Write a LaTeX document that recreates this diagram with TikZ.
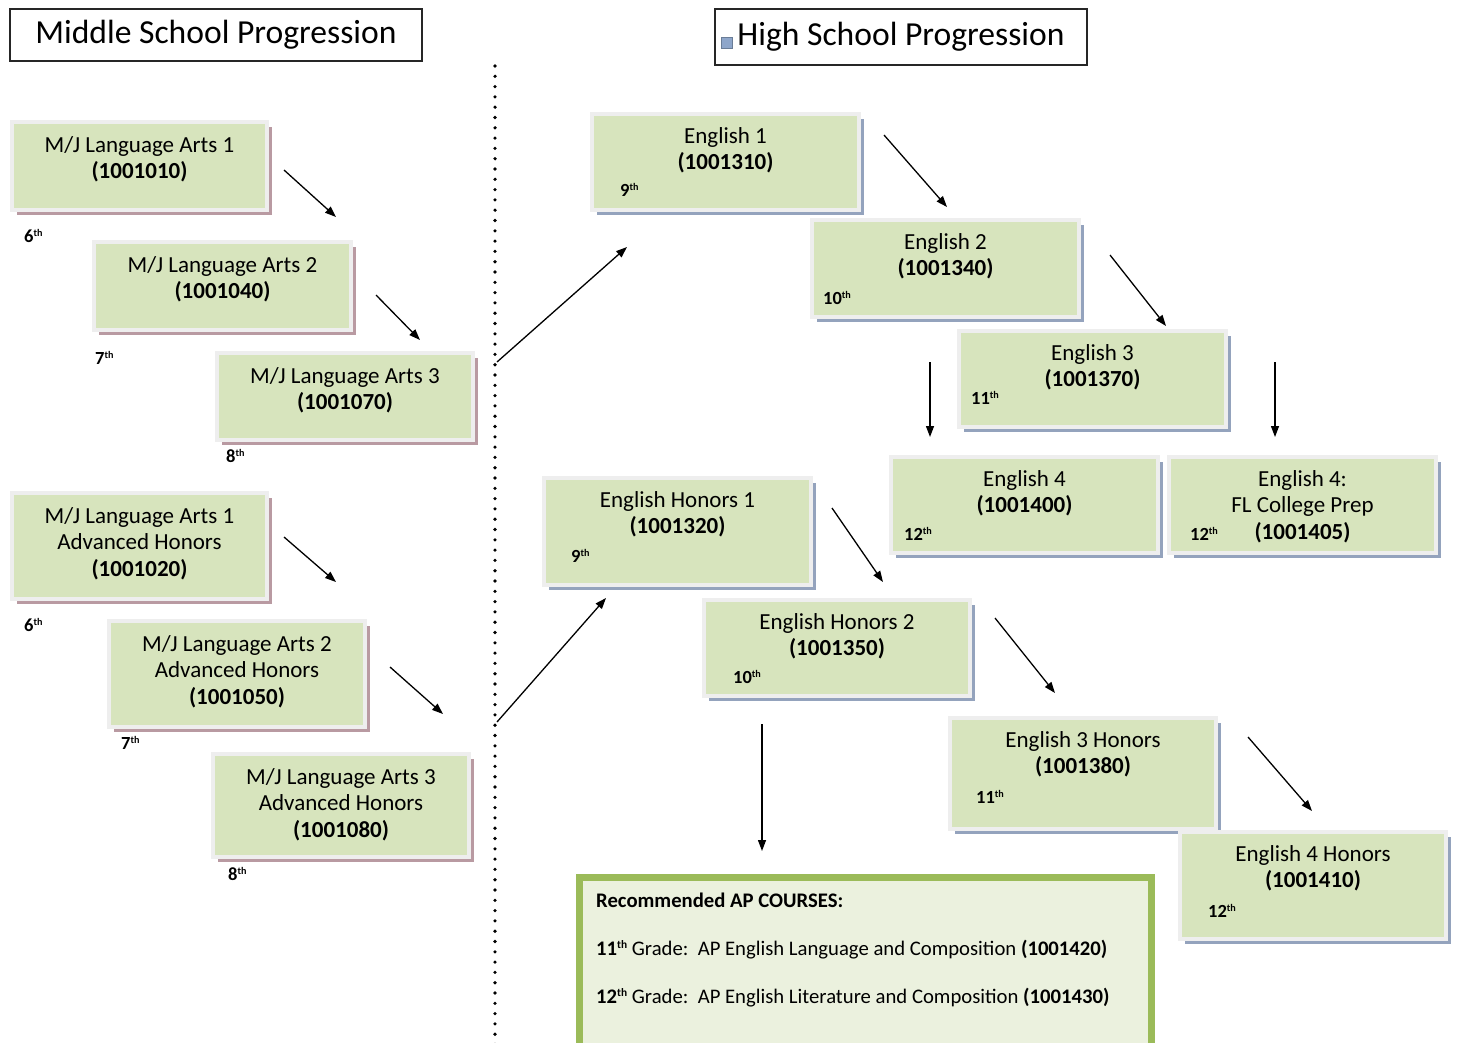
\documentclass[tikz,border=0pt]{standalone}
\usepackage{fontspec}
\setmainfont{Carlito}
\usetikzlibrary{arrows.meta,shadows,calc}
\definecolor{boxgreen}{HTML}{D7E4BD}
\definecolor{framegray}{HTML}{EEEEEE}
\definecolor{shl}{HTML}{B99AA2}
\definecolor{shr}{HTML}{94A3BD}
\definecolor{apgreen}{HTML}{9BBB59}
\definecolor{apfill}{HTML}{EBF1DE}
\definecolor{sqblue}{HTML}{8EA6CA}
\newcommand\gth{\raisebox{0.62ex}{\scalebox{0.55}{th}}}
\tikzset{
  cbox/.style={rectangle, anchor=north west, fill=boxgreen, draw=framegray, line width=4pt, inner sep=0pt},
  lbox/.style={cbox, drop shadow={shadow xshift=5pt, shadow yshift=-5pt, fill=shl, opacity=1}},
  rbox/.style={cbox, drop shadow={shadow xshift=5pt, shadow yshift=-5pt, fill=shr, opacity=1}},
  btext/.style={anchor=north, align=center, inner sep=0pt, font=\fontsize{23}{26.5}\selectfont},
  grade/.style={anchor=base west, inner sep=0pt, font=\fontsize{18.5}{20}\selectfont\bfseries},
  arr/.style={-{Triangle[length=11pt,width=8pt]}, line width=1.3pt},
  titlebox/.style={draw=black!85, line width=1.3pt, inner sep=0pt, font=\fontsize{33.6}{38}\selectfont},
  divider/.style={line width=3.6pt, line cap=round, dash pattern=on 0pt off 10.3pt},
  aptext/.style={anchor=base west, inner sep=0pt, font=\fontsize{20.7}{24}\selectfont},
}
\begin{document}
\begin{tikzpicture}[x=1pt, y=-1pt]
\clip (0,0) rectangle (1457,1042);
\fill[white] (0,0) rectangle (1457,1042);

% titles
\node[titlebox, minimum width=412pt, minimum height=52pt] (ms) at (216,35) {Middle School Progression};
\node[titlebox, minimum width=372pt, minimum height=56pt] (hs) at (901,37) {High School Progression};
\node[fill=sqblue, draw=sqblue!75!black, line width=0.6pt, minimum size=11pt, inner sep=0pt] (sq) at (727,43) {};

% divider
\coordinate (dtop) at (495,66);
\coordinate (dbot) at (495,1046);
\draw[divider] (dtop) -- (dbot);

% middle school boxes
\node[lbox, minimum width=255pt, minimum height=88pt] (mj1) at (10,120) {};
\node[btext] (mj1t) at ($(mj1.north)+(0,16)$) {M/J Language Arts 1\\\textbf{(1001010)}};
\node[lbox, minimum width=257pt, minimum height=88pt] (mj2) at (92,240) {};
\node[btext] (mj2t) at ($(mj2.north)+(0,16)$) {M/J Language Arts 2\\\textbf{(1001040)}};
\node[lbox, minimum width=256pt, minimum height=87pt] (mj3) at (215,351) {};
\node[btext] (mj3t) at ($(mj3.north)+(0,16)$) {M/J Language Arts 3\\\textbf{(1001070)}};
\node[lbox, minimum width=255pt, minimum height=106pt] (mh1) at (10,491) {};
\node[btext] (mh1t) at ($(mh1.north)+(0,16)$) {M/J Language Arts 1\\Advanced Honors\\\textbf{(1001020)}};
\node[lbox, minimum width=256pt, minimum height=106pt] (mh2) at (107,619) {};
\node[btext] (mh2t) at ($(mh2.north)+(0,16)$) {M/J Language Arts 2\\Advanced Honors\\\textbf{(1001050)}};
\node[lbox, minimum width=256pt, minimum height=103pt] (mh3) at (211,752) {};
\node[btext] (mh3t) at ($(mh3.north)+(0,16)$) {M/J Language Arts 3\\Advanced Honors\\\textbf{(1001080)}};

\node[grade] (g6a) at (24,242) {6\gth};
\node[grade] (g7a) at (95,364) {7\gth};
\node[grade] (g8a) at (226,462) {8\gth};
\node[grade] (g6b) at (24,631) {6\gth};
\node[grade] (g7b) at (121,749) {7\gth};
\node[grade] (g8b) at (228,880) {8\gth};

% high school boxes
\node[rbox, minimum width=267pt, minimum height=96pt] (e1) at (590,112) {};
\node[btext] (e1t) at ($(e1.north)+(0,15)$) {English 1\\\textbf{(1001310)}};
\node[rbox, minimum width=267pt, minimum height=97pt] (e2) at (810,218) {};
\node[btext] (e2t) at ($(e2.north)+(0,15)$) {English 2\\\textbf{(1001340)}};
\node[rbox, minimum width=267pt, minimum height=96pt] (e3) at (957,329) {};
\node[btext] (e3t) at ($(e3.north)+(0,15)$) {English 3\\\textbf{(1001370)}};
\node[rbox, minimum width=267pt, minimum height=96pt] (e4) at (889,455) {};
\node[btext] (e4t) at ($(e4.north)+(0,15)$) {English 4\\\textbf{(1001400)}};
\node[rbox, minimum width=267pt, minimum height=96pt] (e4f) at (1167,455) {};
\node[btext] (e4ft) at ($(e4f.north)+(0,15)$) {English 4:\\FL College Prep\\\textbf{(1001405)}};
\node[rbox, minimum width=267pt, minimum height=107pt] (eh1) at (542,476) {};
\node[btext] (eh1t) at ($(eh1.north)+(0,15)$) {English Honors 1\\\textbf{(1001320)}};
\node[rbox, minimum width=266pt, minimum height=96pt] (eh2) at (702,598) {};
\node[btext] (eh2t) at ($(eh2.north)+(0,15)$) {English Honors 2\\\textbf{(1001350)}};
\node[rbox, minimum width=266pt, minimum height=111pt] (eh3) at (948,716) {};
\node[btext] (eh3t) at ($(eh3.north)+(0,15)$) {English 3 Honors\\\textbf{(1001380)}};
\node[rbox, minimum width=266pt, minimum height=107pt] (eh4) at (1178,830) {};
\node[btext] (eh4t) at ($(eh4.north)+(0,15)$) {English 4 Honors\\\textbf{(1001410)}};

\node[grade] (g9a) at (620,196) {9\gth};
\node[grade] (g10a) at (823,304) {10\gth};
\node[grade] (g11a) at (971,404) {11\gth};
\node[grade] (g12a) at (904,540) {12\gth};
\node[grade] (g12b) at (1190,540) {12\gth};
\node[grade] (g9b) at (571,562) {9\gth};
\node[grade] (g10b) at (733,683) {10\gth};
\node[grade] (g11b) at (976,803) {11\gth};
\node[grade] (g12c) at (1208,917) {12\gth};

% AP box
\node[draw=apgreen, line width=6pt, fill=apfill, anchor=north west, inner sep=0pt,
      minimum width=573pt, minimum height=180pt] (ap) at (576,874) {};
\draw[apgreen, line width=1.5pt] ($(ap.north west)+(6,6)$) rectangle ($(ap.south east)+(-6,-6)$);
\node[aptext] (ap1) at (596,907) {\textbf{Recommended AP COURSES:}};
\node[aptext] (ap2) at (596,955) {\textbf{11\gth} Grade:\ \ AP English Language and Composition \textbf{(1001420)}};
\node[aptext] (ap3) at (596,1003) {\textbf{12\gth} Grade:\ \ AP English Literature and Composition \textbf{(1001430)}};

% arrow coordinates
\coordinate (a1s) at (284,170); \coordinate (a1e) at (336,217);
\coordinate (a2s) at (376,295); \coordinate (a2e) at (420,340);
\coordinate (a3s) at (284,537); \coordinate (a3e) at (336,582);
\coordinate (a4s) at (390,667); \coordinate (a4e) at (443,714);
\coordinate (x1s) at (497,362); \coordinate (x1e) at (627,247);
\coordinate (x2s) at (497,722); \coordinate (x2e) at (606,598);
\coordinate (b1s) at (884,135); \coordinate (b1e) at (947,207);
\coordinate (b2s) at (1110,255); \coordinate (b2e) at (1166,326);
\coordinate (b3s) at (930,362); \coordinate (b3e) at (930,437);
\coordinate (b4s) at (1275,362); \coordinate (b4e) at (1275,437);
\coordinate (c1s) at (832,508); \coordinate (c1e) at (883,582);
\coordinate (c2s) at (995,618); \coordinate (c2e) at (1055,693);
\coordinate (c3s) at (1248,737); \coordinate (c3e) at (1312,811);
\coordinate (c4s) at (762,724); \coordinate (c4e) at (762,851);

\foreach \s/\e in {a1s/a1e,a2s/a2e,a3s/a3e,a4s/a4e,x1s/x1e,x2s/x2e,b1s/b1e,b2s/b2e,b3s/b3e,b4s/b4e,c1s/c1e,c2s/c2e,c3s/c3e,c4s/c4e}
  \draw[arr] (\s) -- (\e);
\end{tikzpicture}
\end{document}
